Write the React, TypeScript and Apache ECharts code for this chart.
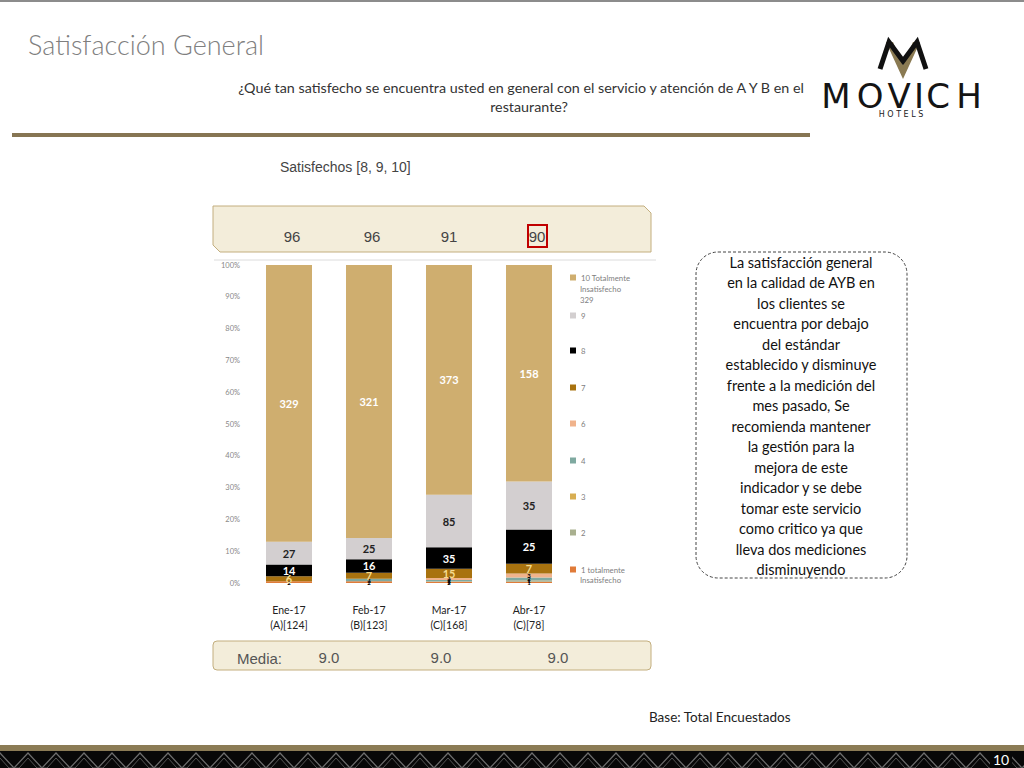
import React, { useEffect, useRef } from 'react';
import * as echarts from 'echarts';

// ---- data ----
const categories = ['Ene-17\n(A)[124]', 'Feb-17\n(B)[123]', 'Mar-17\n(C)[168]', 'Abr-17\n(C)[78]'];
const yTicks = [0, 10, 20, 30, 40, 50, 60, 70, 80, 90, 100];
const s1 = [2, 2, 2, 1];
const s2 = [0, 0, 1, 1];
const s3 = [0, 0, 0, 0];
const s4 = [0, 3, 2, 2];
const s6 = [0, 0, 3, 3];
const s7 = [6, 7, 15, 7];
const s8 = [14, 16, 35, 25];
const s9 = [27, 25, 85, 35];
const s10 = [329, 321, 373, 158];
const satisfechos = [96, 96, 91, 90];
const medias = ['9.0', '9.0', '9.0'];
const calloutLines = [
  'La satisfacción general',
  'en la calidad de AYB en',
  'los clientes se',
  'encuentra por debajo',
  'del estándar',
  'establecido y disminuye',
  'frente a la medición del',
  'mes pasado, Se',
  'recomienda mantener',
  'la gestión para la',
  'mejora de este',
  'indicador y se debe',
  'tomar este servicio',
  'como critico ya que',
  'lleva dos mediciones',
  'disminuyendo',
];

const seriesNames = ['1 totalmente', '2', '3', '4', '6', '7', '8', '9', '10 Totalmente'];
const seriesData = [s1, s2, s3, s4, s6, s7, s8, s9, s10];

// ---- styles ----
const seriesColors = ['#E07B39', '#A9B08F', '#D8AE52', '#7FA9A0', '#F0B38C', '#A8720F', '#000000', '#D3CFD0', '#CFAE6F'];
const labelColors = ['#000', '#000', '#000', '#000', '#000', '#F6DC8F', '#FFFFFF', '#222', '#FFFFFF'];
const labelSizes = [6, 6, 6, 6, 6, 11, 11, 11, 11];
const legendIconY = [570, 533, 497, 461, 424, 388, 351, 316, 278];

export default function App() {
  const ref = useRef<HTMLDivElement>(null);
  useEffect(() => {
    document.body.style.margin = '0';
    if (!ref.current) return;
    const chart = echarts.init(ref.current, null, { renderer: 'svg' });

    const totals = categories.map((_, i) => seriesData.reduce((a, s) => a + s[i], 0));

    const series = seriesData.map((arr, k) => ({
      name: seriesNames[k],
      type: 'bar',
      stack: 'total',
      barWidth: 46,
      itemStyle: { color: seriesColors[k] },
      label: {
        show: true,
        position: 'inside',
        color: labelColors[k],
        fontSize: labelSizes[k],
        fontFamily: 'Lato',
        fontWeight: 'bold',
        formatter: (p: any) => (arr[p.dataIndex] > 0 ? String(arr[p.dataIndex]) : ''),
      },
      data: arr.map((v, i) => (v / totals[i]) * 100),
    }));

    const legends = seriesNames.map((n, k) => ({
      data: [n],
      left: 570,
      top: legendIconY[k] - 4.5,
      padding: 0,
      icon: 'rect',
      itemWidth: 6,
      itemHeight: 6,
      selectedMode: false,
      textStyle: { fontSize: 7.8, color: '#808080', fontFamily: 'Lato' },
    }));

    const satX = [292, 372, 449, 537];
    const medX = [329, 441, 558];

    const zig1: number[][] = [];
    const zig2: number[][] = [];
    for (let x = -14; x <= 1040; x += 28) {
      zig1.push([x, 768]);
      zig1.push([x + 14, 753]);
      zig2.push([x + 5, 768]);
      zig2.push([x + 14, 758]);
      zig2.push([x + 23, 768]);
    }

    const graphic: any[] = [
      { type: 'rect', shape: { x: 0, y: 0, width: 1024, height: 2 }, style: { fill: '#8C8C8C' } },
      { type: 'text', x: 28, y: 44, style: { text: 'Satisfacción General', fontSize: 27, fontFamily: 'Lato', fontWeight: 300, fill: '#7F7F7F', textVerticalAlign: 'middle' } },
      { type: 'text', x: 521, y: 87, style: { text: '¿Qué tan satisfecho se encuentra usted en general con el servicio y atención de A Y B en el', fontSize: 14.3, fontFamily: 'Lato', fill: '#333', textAlign: 'center', textVerticalAlign: 'middle' } },
      { type: 'text', x: 529, y: 106, style: { text: 'restaurante?', fontSize: 14.3, fontFamily: 'Lato', fill: '#333', textAlign: 'center', textVerticalAlign: 'middle' } },
      { type: 'rect', shape: { x: 12, y: 133, width: 798, height: 4 }, style: { fill: '#867553' } },
      // logo mark
      { type: 'polygon', shape: { points: [[886, 42], [903, 79], [920, 42], [913, 42], [903, 65], [893, 42]] }, style: { fill: '#8A7A52' } },
      { type: 'polyline', shape: { points: [[880, 69], [889, 42], [903, 61], [917, 42], [926, 69]] }, style: { stroke: '#111', lineWidth: 5, fill: 'none' } },
      ...['M', 'O', 'V', 'I', 'C', 'H'].map((ch, i) => ({
        type: 'text',
        x: [836, 870, 899, 919, 938, 969][i],
        y: 96,
        style: { text: ch, fontSize: 34, fontFamily: 'DejaVu Sans', fontWeight: 'normal', fill: '#141414', textAlign: 'center', textVerticalAlign: 'middle' },
      })),
      { type: 'text', x: 901, y: 114, style: { text: 'H O T E L S', fontSize: 8, fontFamily: 'DejaVu Sans', fill: '#222', textAlign: 'center', textVerticalAlign: 'middle' } },
      { type: 'text', x: 280, y: 167, style: { text: 'Satisfechos [8, 9, 10]', fontSize: 14, fontFamily: 'Liberation Sans', fill: '#444', textVerticalAlign: 'middle' } },
      // top box
      { type: 'polygon', shape: { points: [[213, 206], [644, 206], [651, 213], [651, 252], [220, 252], [213, 245]] }, style: { fill: '#F3EDDA', stroke: '#C3AE7E', lineWidth: 1 } },
      ...satisfechos.map((v, i) => ({
        type: 'text', x: satX[i], y: 236,
        style: { text: String(v), fontSize: 15, fontFamily: 'Liberation Sans', fill: '#444', textAlign: 'center', textVerticalAlign: 'middle' },
      })),
      { type: 'rect', shape: { x: 528, y: 225, width: 19, height: 22 }, style: { fill: 'none', stroke: '#C00000', lineWidth: 2 } },
      { type: 'line', shape: { x1: 214, y1: 260, x2: 656, y2: 260 }, style: { stroke: '#DCDCDC', lineWidth: 1 } },
      // legend extra lines
      { type: 'text', x: 580, y: 289, style: { text: 'Insatisfecho', fontSize: 7.8, fontFamily: 'Lato', fill: '#808080', textVerticalAlign: 'middle' } },
      { type: 'text', x: 580, y: 300, style: { text: '329', fontSize: 7.8, fontFamily: 'Lato', fill: '#808080', textVerticalAlign: 'middle' } },
      { type: 'text', x: 580, y: 580, style: { text: 'Insatisfecho', fontSize: 7.8, fontFamily: 'Lato', fill: '#808080', textVerticalAlign: 'middle' } },
      // media box
      { type: 'rect', shape: { x: 213, y: 641, width: 438, height: 29, r: 4 }, style: { fill: '#F3EDDA', stroke: '#C3AE7E', lineWidth: 1 } },
      { type: 'text', x: 237, y: 658, style: { text: 'Media:', fontSize: 15, fontFamily: 'Liberation Sans', fill: '#555', textVerticalAlign: 'middle' } },
      ...medias.map((v, i) => ({
        type: 'text', x: medX[i], y: 657,
        style: { text: v, fontSize: 15, fontFamily: 'Liberation Sans', fill: '#555', textAlign: 'center', textVerticalAlign: 'middle' },
      })),
      // callout
      { type: 'rect', shape: { x: 696, y: 252, width: 211, height: 326, r: 22 }, style: { fill: '#fff', stroke: '#444', lineWidth: 1, lineDash: [3, 2] } },
      { type: 'text', x: 801, y: 252, style: { text: calloutLines.join('\n'), fontSize: 14.5, lineHeight: 20.5, fontFamily: 'Lato', fill: '#111', textAlign: 'center', textVerticalAlign: 'top' } },
      { type: 'text', x: 649, y: 717, style: { text: 'Base: Total Encuestados', fontSize: 13.5, fontFamily: 'Lato', fill: '#222', textVerticalAlign: 'middle' } },
      // bottom banner
      { type: 'rect', shape: { x: 0, y: 745, width: 1024, height: 6 }, style: { fill: '#8B7B55' } },
      { type: 'rect', shape: { x: 0, y: 751, width: 1024, height: 17 }, style: { fill: '#080808' } },
      { type: 'polyline', shape: { points: zig1 }, style: { stroke: '#6E6E6E', lineWidth: 1.2, fill: 'none' } },
      { type: 'polyline', shape: { points: zig2 }, style: { stroke: '#555', lineWidth: 1, fill: 'none' } },
      { type: 'rect', shape: { x: 990, y: 751, width: 22, height: 17 }, style: { fill: '#080808' } },
      { type: 'text', x: 1001, y: 759, style: { text: '10', fontSize: 14, fontFamily: 'Lato', fill: '#fff', textAlign: 'center', textVerticalAlign: 'middle' } },
    ];

    chart.setOption({
      animation: false,
      backgroundColor: '#fff',
      grid: { left: 249, right: 455, top: 265, bottom: 185 },
      legend: legends,
      xAxis: {
        type: 'category',
        data: categories,
        axisLine: { show: false },
        axisTick: { show: false },
        axisLabel: { fontSize: 10.5, color: '#222', lineHeight: 15, margin: 19, fontFamily: 'Lato' },
      },
      yAxis: {
        type: 'value',
        min: yTicks[0],
        max: yTicks[yTicks.length - 1],
        interval: 10,
        splitLine: { show: false },
        axisLine: { show: false },
        axisTick: { show: false },
        axisLabel: { formatter: '{value}%', fontSize: 7.5, color: '#888', margin: 9, fontFamily: 'Lato' },
      },
      series,
      graphic,
    });
    return () => chart.dispose();
  }, []);
  return <div ref={ref} style={{ width: 1024, height: 768 }} />;
}
